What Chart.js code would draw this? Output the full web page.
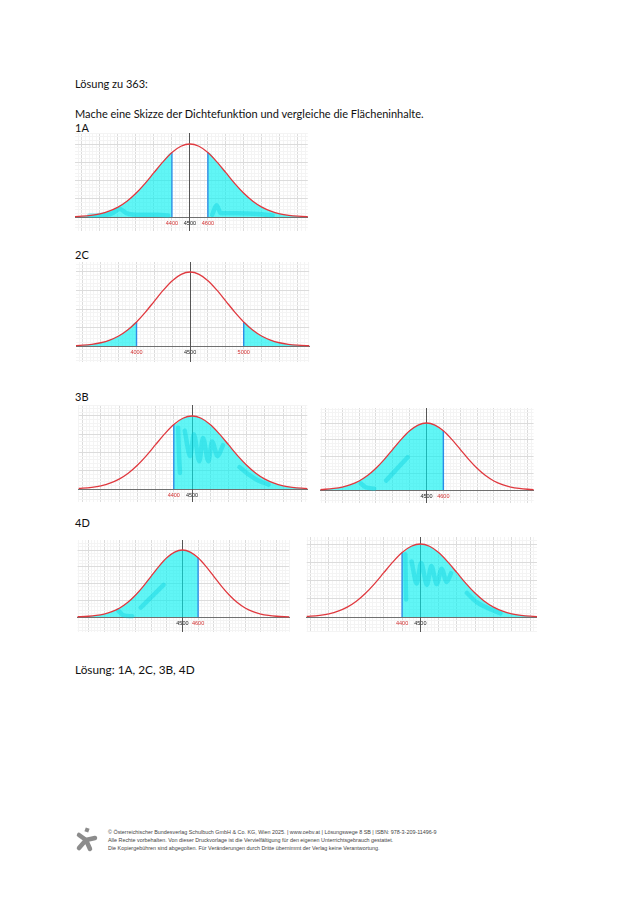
<!DOCTYPE html>
<html>
<head>
<meta charset="utf-8">
<script src="https://cdn.jsdelivr.net/npm/chart.js@4.4.1/dist/chart.umd.min.js"></script>
<style>
body { margin: 0; background: #fff; width: 640px; height: 905px; position: relative; overflow: hidden; font-family: Lato, "Open Sans", sans-serif; color: #111; }
.t { position: absolute; left: 75px; font-size: 11px; line-height: 14px; white-space: nowrap; }
.big { font-size: 11.8px; line-height: 16px; }
canvas { position: absolute; }
.foot { position: absolute; left: 108px; top: 828px; font-family: "Liberation Sans", Arial, sans-serif; font-size: 5.4px; line-height: 8px; color: #444; white-space: nowrap; }
.logo { position: absolute; left: 74px; top: 826px; }
</style>
</head>
<body>
<div class="t" style="top:77px">Lösung zu 363:</div>
<div class="t" style="top:107px">Mache eine Skizze der Dichtefunktion und vergleiche die Flächeninhalte.</div>
<div class="t" style="top:121px">1A</div>
<div class="t" style="top:248px">2C</div>
<div class="t" style="top:390px">3B</div>
<div class="t" style="top:516px">4D</div>
<div class="t big" style="top:662px">Lösung: 1A, 2C, 3B, 4D</div>

<canvas id="c1A" width="233" height="98" style="left:75px;top:133px"></canvas>
<canvas id="c2C" width="235" height="100" style="left:76px;top:262px"></canvas>
<canvas id="c3Bl" width="232" height="97" style="left:76px;top:405px"></canvas>
<canvas id="c3Br" width="215" height="95" style="left:319px;top:408px"></canvas>
<canvas id="c4Dl" width="216" height="92" style="left:76px;top:540px"></canvas>
<canvas id="c4Dr" width="233" height="95" style="left:304px;top:537px"></canvas>

<svg class="logo" width="26" height="28" viewBox="0 0 26 28">
  <rect x="11" y="2" width="4" height="4" fill="#8c8c8c" transform="rotate(20 13 4)"/>
  <path d="M5 9 L12 14 L21 12 M12 14 L5 22 M12 14 L16 23" stroke="#8c8c8c" stroke-width="4.5" fill="none" stroke-linecap="round" stroke-linejoin="round"/>
</svg>
<div class="foot">© Österreichischer Bundesverlag Schulbuch GmbH &amp; Co. KG, Wien 2025. | www.oebv.at | Lösungswege 8 SB | ISBN: 978-3-209-11496-9<br>Alle Rechte vorbehalten. Von dieser Druckvorlage ist die Vervielfältigung für den eigenen Unterrichtsgebrauch gestattet.<br>Die Kopiergebühren sind abgegolten. Für Veränderungen durch Dritte übernimmt der Verlag keine Verantwortung.</div>

<script>
// density curve: offset from the mean in standard deviations, height relative to the peak
const curveZ = [-3.5, -3.25, -3, -2.75, -2.5, -2.25, -2, -1.75, -1.5, -1.25, -1, -0.75, -0.5, -0.25, 0,
                0.25, 0.5, 0.75, 1, 1.25, 1.5, 1.75, 2, 2.25, 2.5, 2.75, 3, 3.25, 3.5];
const curveY = [0.002, 0.005, 0.011, 0.023, 0.044, 0.080, 0.135, 0.216, 0.325, 0.458, 0.607, 0.755, 0.883, 0.969, 1,
                0.969, 0.883, 0.755, 0.607, 0.458, 0.325, 0.216, 0.135, 0.080, 0.044, 0.023, 0.011, 0.005, 0.002];

const mean = 4500;

const labels1A = [4400, 4500, 4600];
const sd1A = 200;
const shade1A = [[null, 4400], [4600, null]];
const strokes1A = [
    [[-2.8, 0.02], [-2.2, 0.04], [-1.95, 0.11], [-1.75, 0.05], [-1.4, 0.03], [-0.9, 0.03], [-0.6, 0.02]],
    [[0.62, 0.03], [0.74, 0.16], [0.86, 0.05], [1.3, 0.05], [1.9, 0.04], [2.3, 0.02]]
];

const labels2C = [4000, 4500, 5000];
const sd2C = 333.3;
const shade2C = [[null, 4000], [5000, null]];
const strokes2C = [];

const labels3Bl = [4400, 4500];
const sd3Bl = 200;
const shade3Bl = [[4400, null]];
const strokes3Bl = [
    [[-0.38, 0.84], [-0.36, 0.5], [-0.33, 0.22]],
    [[-0.2, 0.8], [-0.05, 0.45], [0.05, 0.75], [0.2, 0.38], [0.3, 0.7], [0.45, 0.38], [0.55, 0.65], [0.7, 0.45], [0.85, 0.6]],
    [[1.3, 0.3], [1.55, 0.2], [1.8, 0.12], [2.1, 0.06]]
];

const labels3Br = [4500, 4600];
const sd3Br = 200;
const shade3Br = [[null, 4600]];
const strokes3Br = [
    [[-1.2, 0.14], [-0.56, 0.49]],
    [[-1.95, 0.1], [-1.8, 0.04], [-1.55, 0.02]]
];

const labels4Dl = [4500, 4600];
const sd4Dl = 200;
const shade4Dl = [[null, 4600]];
const strokes4Dl = [
    [[-1.33, 0.14], [-0.6, 0.48]],
    [[-2.05, 0.1], [-1.9, 0.03], [-1.6, 0.01]]
];

const labels4Dr = [4400, 4500];
const sd4Dr = 200;
const shade4Dr = [[4400, null]];
const strokes4Dr = [
    [[-0.41, 0.86], [-0.4, 0.5], [-0.39, 0.24]],
    [[-0.24, 0.76], [-0.1, 0.46], [0.02, 0.74], [0.18, 0.44], [0.3, 0.7], [0.45, 0.45], [0.58, 0.66], [0.72, 0.48], [0.84, 0.6]],
    [[1.27, 0.33], [1.55, 0.2], [1.85, 0.12], [2.19, 0.05]]
];

const RED = '#e0393f';
const FILL = 'rgba(0, 240, 240, 0.62)';
const EDGE = '#2d8ee6';
const SCRIBBLE = 'rgba(0, 205, 220, 0.38)';

function nearHeight(z) {
    let best = 0;
    curveZ.forEach((v, i) => { if (Math.abs(v - z) < Math.abs(curveZ[best] - z)) best = i; });
    return curveY[best];
}

// box: x of the mean, y of the base line, px per sd, px of the peak (inside the canvas)
function makeChart(id, box, labels, sd, shade, strokes) {
    const cvs = document.getElementById(id);
    const w = cvs.width, h = cvs.height;
    const xMin = -box.cx / box.sx, xMax = (w - box.cx) / box.sx;
    const yMax = box.base / box.peak, yMin = -(h - box.base) / box.peak;
    const toZ = v => (v - mean) / sd;

    const curve = curveZ.map((z, i) => ({ x: z, y: curveY[i] }));
    const datasets = [{ data: curve, borderColor: RED, borderWidth: 1.3, order: 0 }];

    shade.forEach(([a, b]) => {
        const za = a === null ? -Infinity : toZ(a);
        const zb = b === null ? Infinity : toZ(b);
        const pts = curve.filter(p => p.x >= za - 0.01 && p.x <= zb + 0.01);
        if (a !== null) pts.unshift({ x: pts[0].x, y: 0 });
        if (b !== null) pts.push({ x: pts[pts.length - 1].x, y: 0 });
        datasets.push({ data: pts, borderWidth: 0, backgroundColor: FILL, fill: 'origin', order: 3 });
        [a, b].filter(v => v !== null).forEach(v => {
            const z = toZ(v);
            datasets.push({ data: [{ x: z, y: 0 }, { x: z, y: nearHeight(z) }], borderColor: EDGE, borderWidth: 1.4, tension: 0, order: 1 });
        });
    });

    strokes.forEach(s => {
        datasets.push({
            data: s.map(([x, y]) => ({ x, y })), borderColor: SCRIBBLE, borderWidth: 4.5,
            borderCapStyle: 'round', borderJoinStyle: 'round', tension: 0.35, order: 2
        });
    });

    const labelAt = v => labels.find(l => Math.abs(toZ(l) - v) < 0.01);
    const isMajor = (v, per) => Math.abs(v * per - Math.round(v * per)) < 1e-6;

    new Chart(cvs, {
        type: 'line',
        data: { datasets },
        options: {
            responsive: false,
            animation: false,
            events: [],
            layout: { padding: 0 },
            elements: {
                point: { radius: 0 },
                line: { cubicInterpolationMode: 'monotone', fill: false }
            },
            plugins: { legend: { display: false }, tooltip: { enabled: false } },
            scales: {
                x: {
                    type: 'linear', min: xMin, max: xMax, position: { y: 0 },
                    afterBuildTicks: sc => {
                        const t = [];
                        for (let k = Math.ceil(xMin * 10); k <= Math.floor(xMax * 10); k++) t.push({ value: k / 10 });
                        sc.ticks = t;
                    },
                    grid: {
                        drawTicks: false,
                        color: c => (isMajor(c.tick.value, 2) ? '#dcdcdc' : '#f4f4f4')
                    },
                    border: { color: '#707070', width: 1 },
                    ticks: {
                        autoSkip: false, maxRotation: 0, padding: 3,
                        font: { family: 'Liberation Sans, Arial, sans-serif', size: 5.5 },
                        color: c => (labelAt(c.tick.value) === mean ? '#222' : '#d23030'),
                        callback: v => { const l = labelAt(v); return l === undefined ? '' : String(l); }
                    }
                },
                y: {
                    type: 'linear', min: yMin, max: yMax, position: { x: 0 },
                    afterBuildTicks: sc => {
                        const t = [];
                        for (let k = Math.ceil(yMin * 20); k <= Math.floor(yMax * 20); k++) t.push({ value: k / 20 });
                        sc.ticks = t;
                    },
                    grid: {
                        drawTicks: false,
                        color: c => (isMajor(c.tick.value, 4) ? '#dcdcdc' : '#f4f4f4')
                    },
                    border: { color: '#555', width: 1 },
                    ticks: { display: false }
                }
            }
        }
    });
}

makeChart('c1A', { cx: 115, base: 84, sx: 36, peak: 73 }, labels1A, sd1A, shade1A, strokes1A);
makeChart('c2C', { cx: 115, base: 84, sx: 36, peak: 74 }, labels2C, sd2C, shade2C, strokes2C);
makeChart('c3Bl', { cx: 115, base: 84, sx: 37, peak: 73 }, labels3Bl, sd3Bl, shade3Bl, strokes3Bl);
makeChart('c3Br', { cx: 107, base: 82, sx: 34, peak: 67 }, labels3Br, sd3Br, shade3Br, strokes3Br);
makeChart('c4Dl', { cx: 107, base: 77, sx: 32, peak: 67 }, labels4Dl, sd4Dl, shade4Dl, strokes4Dl);
makeChart('c4Dr', { cx: 115, base: 80, sx: 37, peak: 73 }, labels4Dr, sd4Dr, shade4Dr, strokes4Dr);
</script>
</body>
</html>
